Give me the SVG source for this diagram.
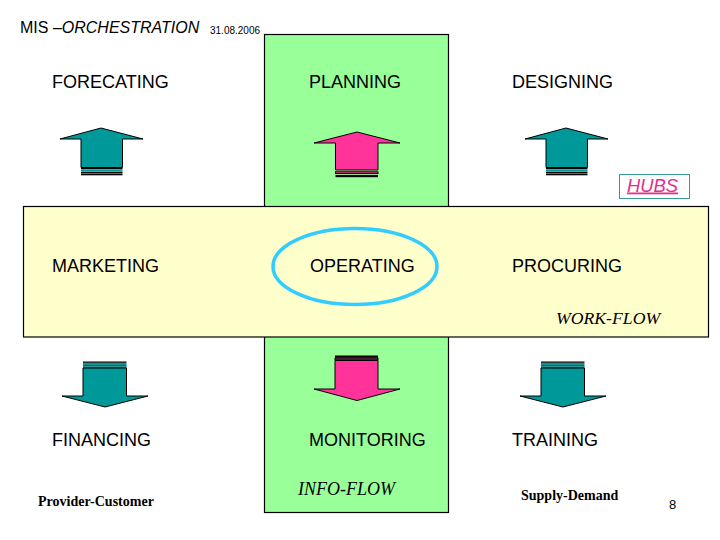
<svg xmlns="http://www.w3.org/2000/svg" width="720" height="540" viewBox="0 0 720 540">
<style>
.lbl{font-family:"Liberation Sans",Arial,sans-serif;font-size:18px;fill:#000}
.ser{font-family:"Liberation Serif","Times New Roman",serif;fill:#000}
.teal{fill:#009999;stroke:#000;stroke-width:1}
.pink{fill:#ff3399;stroke:#000;stroke-width:1}
.blk{fill:#000}
</style>
<rect width="720" height="540" fill="#fff"/>
<g id="infoflow-band"><rect x="264.5" y="34.5" width="184" height="478" fill="#99ff99" stroke="#000" stroke-width="1.2"/></g>
<g id="workflow-band"><rect x="23.5" y="206.5" width="685" height="130.5" fill="#ffffcc" stroke="#000" stroke-width="1.2"/></g>
<g id="title">
<text x="20" y="33" font-family="'Liberation Sans',Arial,sans-serif" font-size="16">MIS –<tspan font-style="italic">ORCHESTRATION</tspan></text>
<text x="210" y="34" font-family="'Liberation Sans',Arial,sans-serif" font-size="10">31.08.2006</text>
</g>
<g id="forecasting"><text class="lbl" x="52" y="88">FORECATING</text></g>
<g id="planning"><text class="lbl" x="309" y="88">PLANNING</text></g>
<g id="designing"><text class="lbl" x="512" y="88">DESIGNING</text></g>
<g id="marketing"><text class="lbl" x="52" y="272">MARKETING</text></g>
<g id="operating">
<ellipse cx="355" cy="266.5" rx="82" ry="38" fill="none" stroke="#33ccff" stroke-width="3.5"/>
<text class="lbl" x="310" y="272">OPERATING</text></g>
<g id="procuring"><text class="lbl" x="512" y="272">PROCURING</text></g>
<g id="financing"><text class="lbl" x="52" y="446">FINANCING</text></g>
<g id="monitoring"><text class="lbl" x="309" y="446">MONITORING</text></g>
<g id="training"><text class="lbl" x="512" y="446">TRAINING</text></g>
<g id="hubs">
<rect x="619.5" y="174.5" width="70" height="24" fill="#fff" stroke="#339999" stroke-width="1"/>
<text x="627" y="191.5" font-family="'Liberation Sans',Arial,sans-serif" font-size="18" font-style="italic" text-decoration="underline" fill="#e0308a" textLength="51" lengthAdjust="spacingAndGlyphs">HUBS</text>
</g>
<g id="workflow-label"><text class="ser" x="556" y="324" font-size="17.7" font-style="italic">WORK-FLOW</text></g>
<g id="infoflow-label"><text class="ser" x="298" y="495" font-size="18" font-style="italic">INFO-FLOW</text></g>
<g id="provider-customer"><text class="ser" x="38" y="506" font-size="14" font-weight="bold">Provider-Customer</text></g>
<g id="supply-demand"><text class="ser" x="521" y="500" font-size="14" font-weight="bold">Supply-Demand</text></g>
<g id="page"><text x="669" y="509" font-family="'Liberation Sans',Arial,sans-serif" font-size="13">8</text></g>
<g id="connectors">
<g transform="translate(101,0)">
<polygon class="teal" points="-41,139 0,128 42,139 21.5,139 21.5,167.5 -20,167.5 -20,139"/>
<rect class="blk" x="-20" y="168" width="41.5" height="1.3"/>
<rect x="-20" y="169.5" width="41.5" height="2" fill="#009999"/>
<rect class="blk" x="-20" y="171.8" width="41.5" height="1.2"/>
<rect x="-20" y="173" width="41.5" height="1" fill="#009999"/>
<rect class="blk" x="-20" y="174" width="41.5" height="1.3"/>
</g>
<g transform="translate(566,0)">
<polygon class="teal" points="-41,139 0,128 42,139 21.5,139 21.5,167.5 -20,167.5 -20,139"/>
<rect class="blk" x="-20" y="168" width="41.5" height="1.3"/>
<rect x="-20" y="169.5" width="41.5" height="2" fill="#009999"/>
<rect class="blk" x="-20" y="171.8" width="41.5" height="1.2"/>
<rect x="-20" y="173" width="41.5" height="1" fill="#009999"/>
<rect class="blk" x="-20" y="174" width="41.5" height="1.3"/>
</g>
<g transform="translate(357,0)">
<polygon class="pink" points="-43,143 0,132 43,143 21,143 21,170 -21.5,170 -21.5,143"/>
<rect class="pink" x="-21.5" y="171.8" width="42.5" height="1.8"/>
<rect class="blk" x="-21.5" y="175" width="42.5" height="2.2"/>
</g>
<g transform="translate(105,0)">
<rect class="blk" x="-22" y="361.5" width="43.5" height="1.3"/>
<rect x="-22" y="363" width="43.5" height="2" fill="#009999"/>
<rect class="blk" x="-22" y="365.3" width="43.5" height="1.2"/>
<rect x="-22" y="366.5" width="43.5" height="1.5" fill="#009999"/>
<polygon class="teal" points="-22,368 21.5,368 21.5,396 43,396 0,407 -43,396 -22,396"/>
</g>
<g transform="translate(563,0)">
<rect class="blk" x="-22" y="361.5" width="43.5" height="1.3"/>
<rect x="-22" y="363" width="43.5" height="2" fill="#009999"/>
<rect class="blk" x="-22" y="365.3" width="43.5" height="1.2"/>
<rect x="-22" y="366.5" width="43.5" height="1.5" fill="#009999"/>
<polygon class="teal" points="-22,368 21.5,368 21.5,396 43,396 0,407 -43,396 -22,396"/>
</g>
<g transform="translate(357,0)">
<rect class="blk" x="-22" y="355.5" width="43" height="2.3"/>
<rect class="pink" x="-22" y="358.2" width="43" height="1.6"/>
<polygon class="pink" points="-22,360.5 21,360.5 21,389 43,389 0,400.5 -43,389 -22,389"/>
</g>
</g>
</svg>
